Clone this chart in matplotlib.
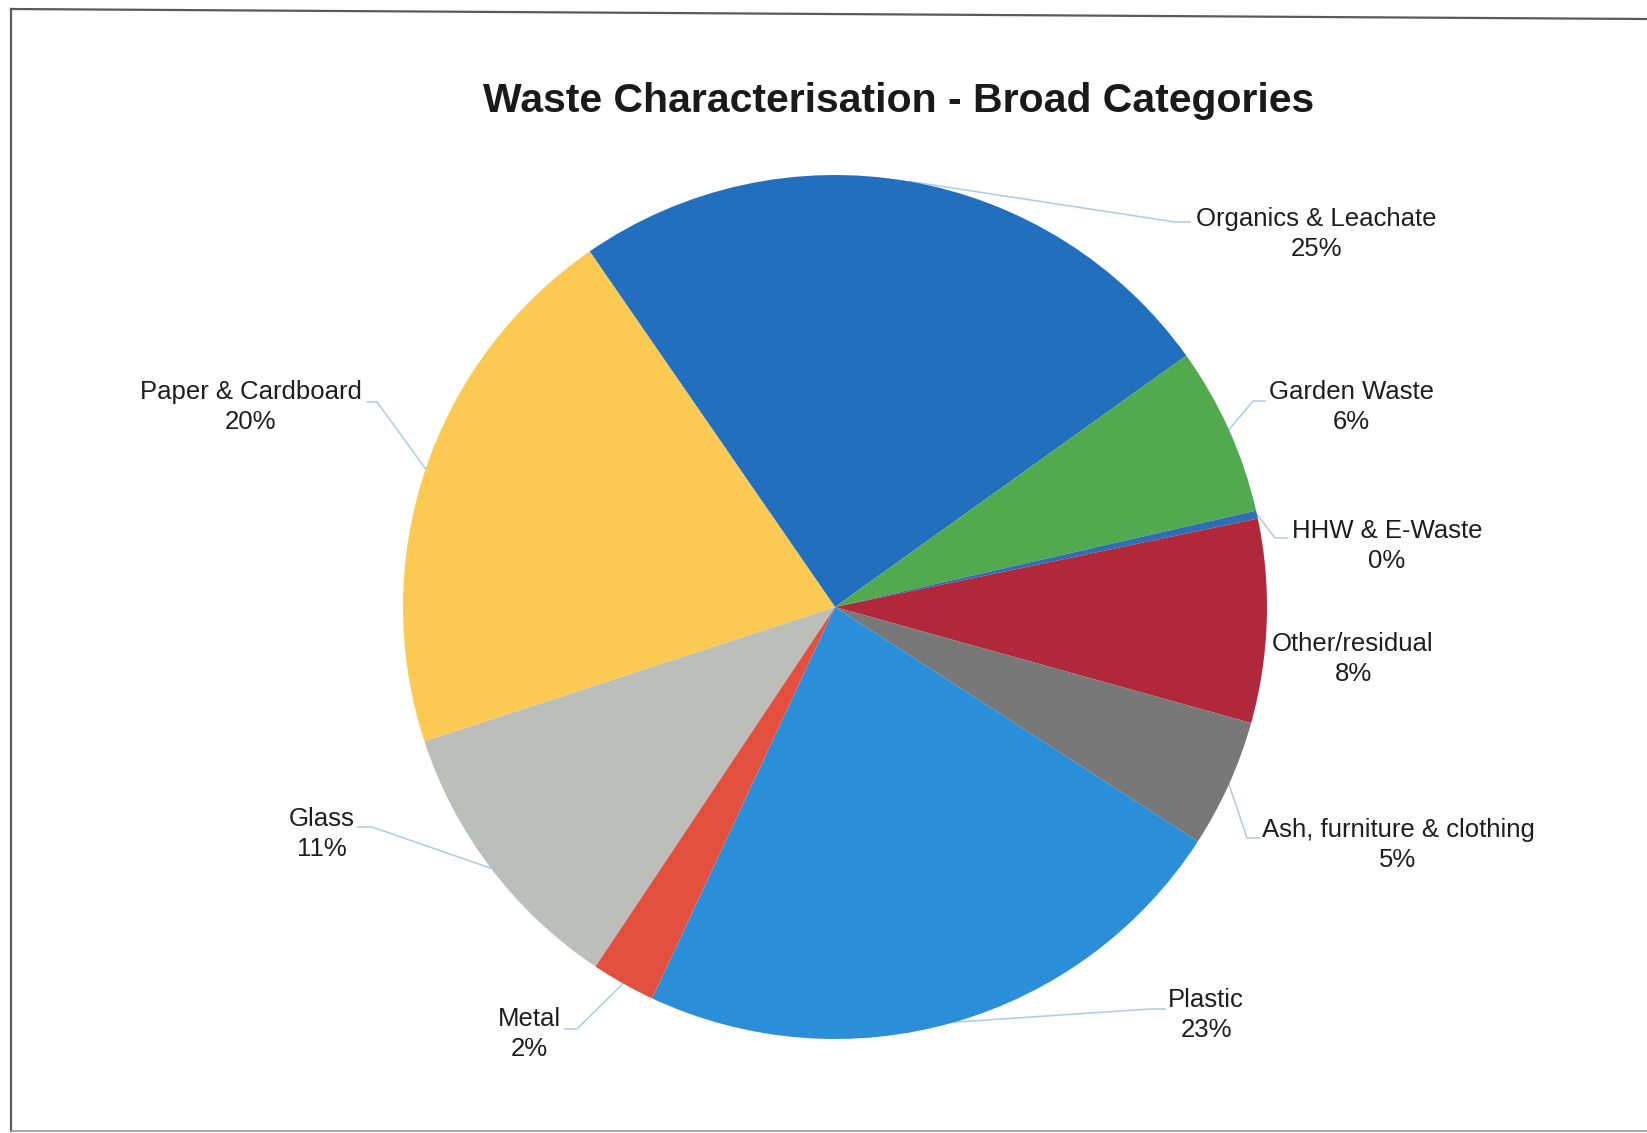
import matplotlib.pyplot as plt
from matplotlib.lines import Line2D
import numpy as np

# waste composition by broad category (share of total, %)
categories = ['Organics & Leachate', 'Garden Waste', 'HHW & E-Waste', 'Other/residual',
              'Ash, furniture & clothing', 'Plastic', 'Metal', 'Glass', 'Paper & Cardboard']
shares = [24.7, 6.3, 0.3, 7.6, 4.8, 22.8, 2.4, 10.6, 20.4]
colors = ['#2270BD', '#52AA4E', '#2F6DB5', '#B0283A', '#787878',
          '#2A8FD8', '#E4503F', '#BCBEBA', '#FCCA52']

title = 'Waste Characterisation - Broad Categories'

# figure size in pixels, pie centre and radius
W, H = 1647, 1133
cx, cy, r = 835, 607, 432

# label centres (pixels)
label_pos = [(1316, 234), (1351, 407), (1387, 546), (1353, 659), (1398, 845),
             (1206, 1015), (529, 1034), (322, 834), (251, 407)]
# leader line elbow and end points (pixels), None = no leader
leaders = [[(1175, 222), (1190, 222)],
           [(1253, 401), (1265, 401)],
           [(1275, 538), (1287, 538)],
           None,
           [(1247, 838), (1260, 838)],
           [(1150, 1009), (1165, 1009)],
           [(577, 1029), (565, 1029)],
           [(372, 827), (358, 827)],
           [(377, 402), (367, 402)]]


def to_data(x, y):
    return (x - cx) / r, (cy - y) / r


plt.rcParams['font.family'] = ['Liberation Sans', 'DejaVu Sans']

fig = plt.figure(figsize=(W / 100, H / 100), dpi=100)
fig.patch.set_facecolor('white')

ax = fig.add_axes([(cx - r) / W, (H - cy - r) / H, 2 * r / W, 2 * r / H])
wedges, _ = ax.pie(shares, colors=colors, startangle=124.6, counterclock=False,
                   radius=1, wedgeprops=dict(linewidth=0))
ax.set_xlim(-1, 1)
ax.set_ylim(-1, 1)
ax.axis('off')

total = sum(shares)
for i, w in enumerate(wedges):
    pct = round(shares[i] / total * 100)
    lx, ly = to_data(*label_pos[i])
    ax.text(lx, ly, categories[i] + '\n' + str(pct) + '%', ha='center', va='center',
            fontsize=18.5, color='#1E1E1E', multialignment='center',
            linespacing=1.3, clip_on=False)

    if leaders[i] is not None:
        mid = np.deg2rad((w.theta1 + w.theta2) / 2)
        xs = [np.cos(mid)]
        ys = [np.sin(mid)]
        for p in leaders[i]:
            dx, dy = to_data(*p)
            xs.append(dx)
            ys.append(dy)
        ax.plot(xs, ys, color='#A9CCEA', lw=1.1, clip_on=False, zorder=0.5)

fig.text(899 / W, 1 - 101 / H, title, ha='center', va='center',
         fontsize=29.5, fontweight='bold', color='#1A1A1A')

# chart border
border = dict(color='#5A5A5A', lw=1.6, transform=fig.transFigure)
fig.add_artist(Line2D([11 / W, 11 / W], [1 - 9 / H, 1 - 1131 / H], **border))
fig.add_artist(Line2D([11 / W, 1.0], [1 - 9 / H, 1 - 19 / H], **border))
fig.add_artist(Line2D([11 / W, 1.0], [1 - 1131 / H, 1 - 1131 / H], color='#9A9A9A',
                      lw=1.2, transform=fig.transFigure))

plt.savefig('out.png', dpi=100, facecolor='white')
